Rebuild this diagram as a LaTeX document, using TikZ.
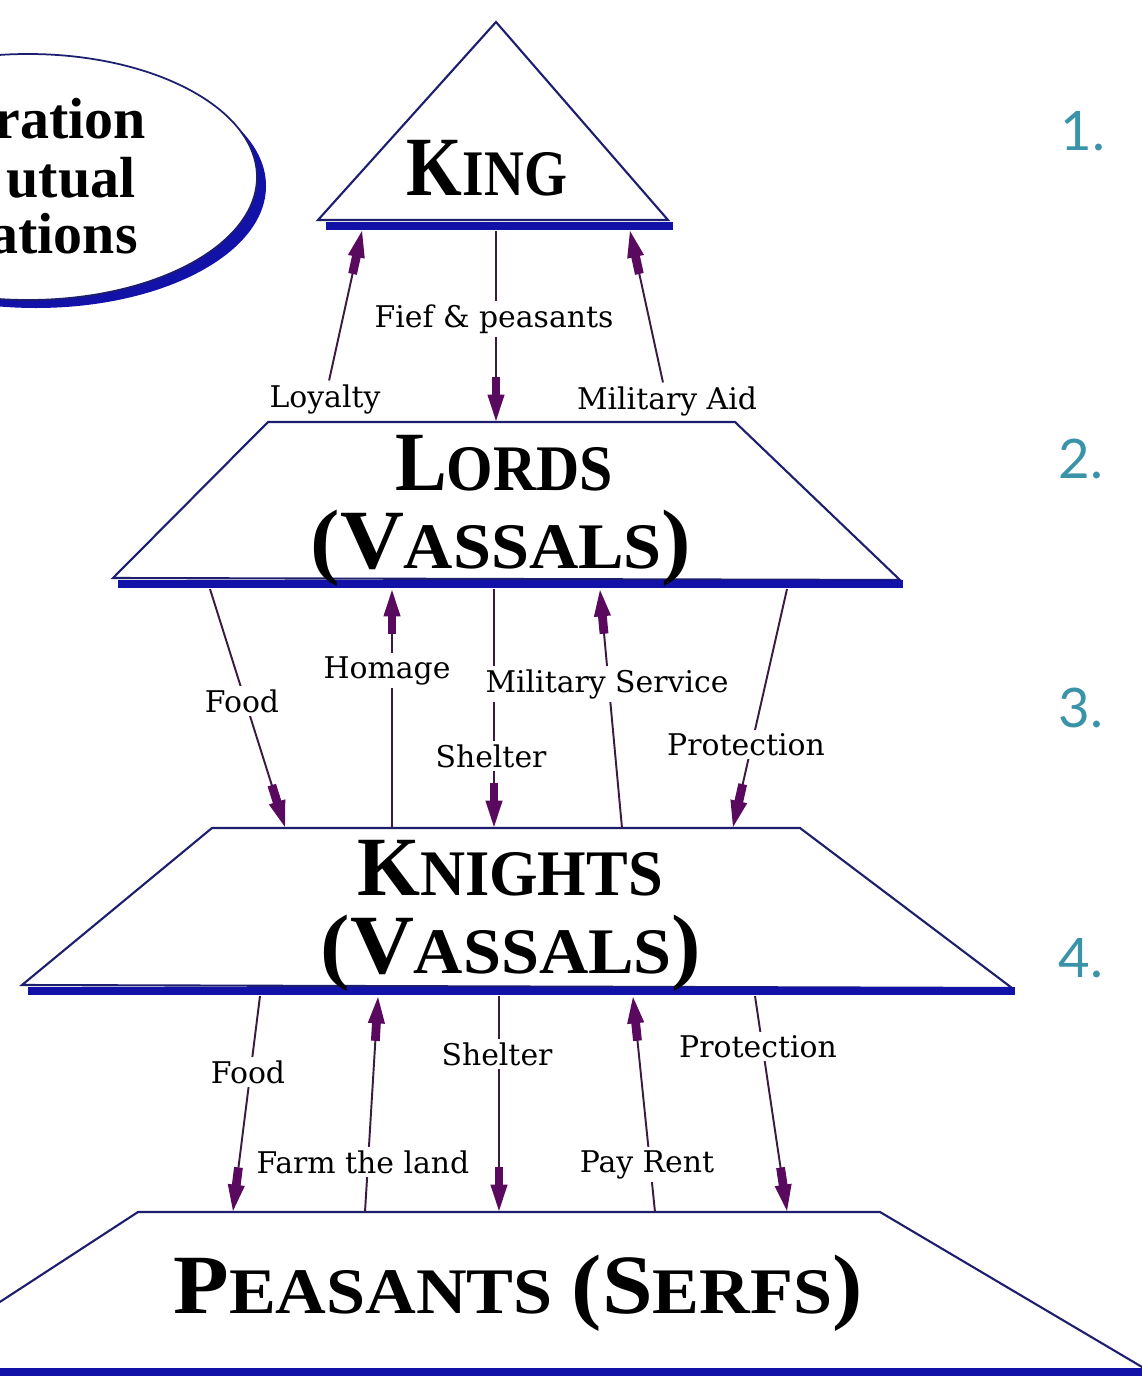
\documentclass[tikz,border=0pt]{standalone}
\usepackage{fontspec}
\usepackage{graphicx}
\usetikzlibrary{arrows.meta}
\newfontfamily\titlefont{Liberation Serif}
\newfontfamily\labelfont{DejaVu Serif}
\newfontfamily\numfont{Lato}
\newfontfamily\ovalfont{Liberation Serif}
\definecolor{navy}{HTML}{1E1E6E}
\definecolor{baseblue}{HTML}{1212A8}
\definecolor{arrline}{HTML}{3C1A40}
\definecolor{arrhead}{HTML}{5A0A5E}
\definecolor{numteal}{HTML}{3A93A8}
\newcommand\BG[1]{{\fontsize{48}{50}\selectfont #1}}
\newcommand\SM[1]{{\fontsize{37}{40}\selectfont #1}}
\pgfdeclarelayer{shapes}
\pgfdeclarelayer{lines}
\pgfsetlayers{shapes,lines,main}
\begin{document}
\begin{tikzpicture}[x=0.02cm,y=-0.02cm,
  outline/.style={draw=navy, line width=1.2pt, fill=white},
  basebar/.style={draw=baseblue, line width=5pt},
  conn/.style={draw=arrline, line width=1.1pt,
    -{Rectangle[length=11pt,width=5pt,color=arrhead,sep=-1pt]Triangle[length=15pt,width=9.5pt,color=arrhead]}},
  lbl/.style={font=\labelfont\fontsize{17}{19}\selectfont, fill=white, inner sep=2pt, anchor=base},
  ttl/.style={font=\titlefont\bfseries, inner sep=0pt, anchor=base},
  num/.style={font=\numfont\fontsize{31}{34}\selectfont, text=numteal, inner sep=0pt, anchor=base},
  ovt/.style={font=\ovalfont\bfseries\fontsize{33}{36}\selectfont, inner sep=0pt, anchor=base east}]
\useasboundingbox (0,0) rectangle (1142,1376);

% ---------- shapes ----------
\begin{pgfonlayer}{shapes}
\fill[white] (0,0) rectangle (1142,1376);
\begin{scope}
\clip (0,0) rectangle (1142,1376);
% oval
\fill[baseblue] (36,186) ellipse [x radius=230, y radius=122];
\draw[navy, line width=1pt, fill=white] (28,177) ellipse [x radius=229, y radius=123];
% king
\draw[outline] (496,22) -- (668,220) -- (318,220) -- cycle;
\draw[basebar] (326,226) -- (673,226);
% lords
\draw[outline] (268,422) -- (735,422) -- (900,580) -- (113,578) -- cycle;
\draw[basebar] (118,584) -- (903,584);
% knights
\draw[outline] (212,828) -- (800,828) -- (1012,988) -- (22,985) -- cycle;
\draw[basebar] (28,991) -- (1015,991);
% peasants
\draw[outline] (138,1212) -- (880,1212) -- (1164,1380) -- (-120,1380) -- cycle;
\draw[basebar] (-10,1372) -- (1152,1372);
\end{scope}
\end{pgfonlayer}

% ---------- oval text ----------
\node[ovt] (ov1) at (146,138) {ration};
\node[ovt] (ov2) at (136,197) {utual};
\node[ovt] (ov3) at (138,253) {ations};

% ---------- titles ----------
\node[ttl] (king) at (487,195) {\scalebox{0.85}[1]{\BG{K}\SM{ING}}};
\node[ttl] (lords) at (504,490) {\scalebox{0.92}[1]{\BG{L}\SM{ORDS}}};
\node[ttl] (vass1) at (501,568) {\scalebox{1.05}[1]{\BG{(V}\SM{ASSALS}\BG{)}}};
\node[ttl] (knights) at (510,895) {\scalebox{0.96}[1]{\BG{K}\SM{NIGHTS}}};
\node[ttl] (vass2) at (511,973) {\scalebox{1.05}[1]{\BG{(V}\SM{ASSALS}\BG{)}}};
\node[ttl] (peasants) at (518,1313) {\scalebox{1.08}[1]{\BG{P}\SM{EASANTS}\hspace{10pt}\BG{(S}\SM{ERFS}\BG{)}}};

% ---------- numbers ----------
\node[num] (n1) at (1083,150) {1.};
\node[num] (n2) at (1081,478) {2.};
\node[num] (n3) at (1081,727) {3.};
\node[num] (n4) at (1081,977) {4.};

% ---------- labels ----------
\node[lbl] (fief) at (494,327) {Fief \& peasants};
\node[lbl] (loyalty) at (325,407) {Loyalty};
\node[lbl] (milaid) at (667,409) {Military Aid};
\node[lbl] (homage) at (387,678) {Homage};
\node[lbl] (milserv) at (607,692) {Military Service};
\node[lbl] (food1) at (242,712) {Food};
\node[lbl] (shelter1) at (491,767) {Shelter};
\node[lbl] (prot1) at (746,755) {Protection};
\node[lbl] (food2) at (248,1083) {Food};
\node[lbl] (shelter2) at (497,1065) {Shelter};
\node[lbl] (prot2) at (758,1057) {Protection};
\node[lbl] (farm) at (363,1173) {Farm the land};
\node[lbl] (rent) at (647,1172) {Pay Rent};

% ---------- attachment points ----------
\coordinate (kL) at (362,231);
\coordinate (kM) at (496,231);
\coordinate (kR) at (630,231);
\coordinate (lM) at (496,421);
\coordinate (lb1) at (210,589);
\coordinate (lb2) at (392,590);
\coordinate (lb3) at (494,589);
\coordinate (lb4) at (600,590);
\coordinate (lb5) at (787,589);
\coordinate (kt1) at (285,827);
\coordinate (kt2) at (392,828);
\coordinate (kt3) at (494,827);
\coordinate (kt4) at (622,828);
\coordinate (kt5) at (733,827);
\coordinate (nb1) at (260,996);
\coordinate (nb2) at (378,997);
\coordinate (nb3) at (499,996);
\coordinate (nb4) at (633,997);
\coordinate (nb5) at (755,996);
\coordinate (pt1) at (233,1211);
\coordinate (pt2) at (365,1212);
\coordinate (pt3) at (499,1211);
\coordinate (pt4) at (655,1212);
\coordinate (pt5) at (787,1211);

% ---------- connectors ----------
\begin{pgfonlayer}{lines}
\draw[conn] (loyalty) -- (kL);
\draw[conn] (kM) -- (lM);
\draw[conn] (milaid) -- (kR);
\draw[conn] (lb1) -- (kt1);
\draw[conn] (kt2) -- (lb2);
\draw[conn] (lb3) -- (kt3);
\draw[conn] (kt4) -- (lb4);
\draw[conn] (lb5) -- (kt5);
\draw[conn] (nb1) -- (pt1);
\draw[conn] (pt2) -- (nb2);
\draw[conn] (nb3) -- (pt3);
\draw[conn] (pt4) -- (nb4);
\draw[conn] (nb5) -- (pt5);
\end{pgfonlayer}
\end{tikzpicture}
\end{document}
